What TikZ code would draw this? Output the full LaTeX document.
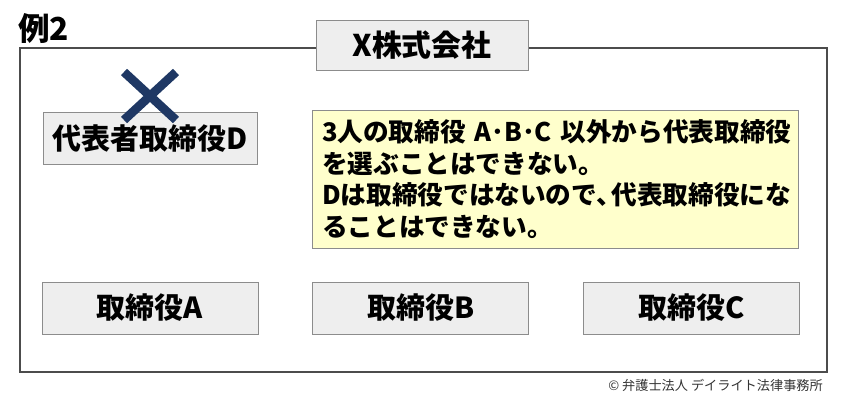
\documentclass[tikz,border=0pt]{standalone}
\usepackage{fontspec}
\setmainfont{Noto Sans CJK JP}
\usetikzlibrary{positioning}
\definecolor{boxgray}{HTML}{EEEEEE}
\definecolor{linegray}{HTML}{8C8C8C}
\definecolor{notecream}{HTML}{FFFFCC}
\definecolor{crossnavy}{HTML}{1F3864}
\tikzstyle{company} = [rectangle, minimum width=4.24cm, minimum height=1cm, text centered, draw=linegray, fill=boxgray, font=\fontsize{17}{20}\selectfont\bfseries]
\tikzstyle{director} = [rectangle, minimum width=4.32cm, minimum height=1.04cm, text centered, draw=linegray, fill=boxgray, font=\fontsize{16.5}{19}\selectfont\bfseries]
\tikzstyle{note} = [rectangle, text width=9.32cm, minimum height=2.76cm, inner xsep=0.2cm, align=left, draw=linegray, fill=notecream, font=\fontsize{14.6}{18}\selectfont\bfseries]
\tikzstyle{frame} = [draw=black!70, line width=0.8pt]
\tikzstyle{cross} = [crossnavy, line width=5pt]

\begin{document}
\begin{tikzpicture}[x=0.02cm, y=-0.02cm, node distance=1.08cm]
	\useasboundingbox (0,0) rectangle (850,400);
	\draw [frame] (20,48) rectangle (827,372);
	\node (example) [anchor=west, font=\fontsize{18}{20}\selectfont\bfseries] at (12,28) {例2};
	\node (company) [company] at (422,45) {X株式会社};
	\node (dirA) [director] at (150,308) {取締役A};
	\node (dirB) [director, right=of dirA] {取締役B};
	\node (dirC) [director, right=of dirB] {取締役C};
	\node (repD) [director, minimum width=4.28cm, above=2.34cm of dirA] {代表者取締役D};
	\node (note) [note] at (555,179) {\mbox{3人の取締役 A･B･C 以外から代表取締役}\\を選ぶことはできない。\\Dは取締役ではないので、\kern-0.4em 代表取締役にな\\ることはできない。};
	\draw [cross] (124,72) -- (176,120);
	\draw [cross] (176,72) -- (124,120);
	\node (credit) [anchor=east, text=black!80, font=\fontsize{7.5}{9}\selectfont] at (829,385) {© 弁護士法人 デイライト法律事務所};
\end{tikzpicture}
\end{document}
